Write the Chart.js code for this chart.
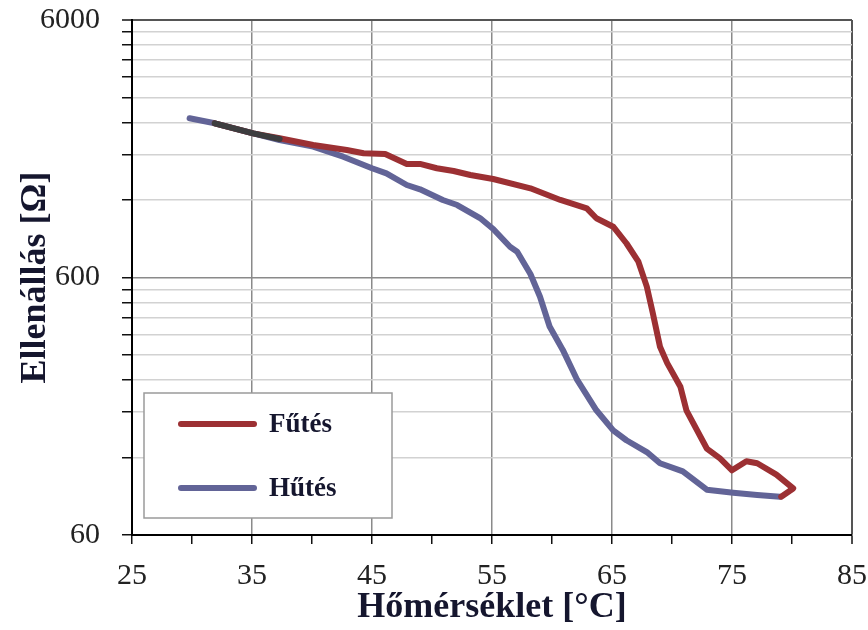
<!DOCTYPE html>
<html>
<head>
<meta charset="utf-8">
<script src="https://cdn.jsdelivr.net/npm/chart.js@4/dist/chart.umd.min.js"></script>
<style>
  html, body { margin: 0; padding: 0; background: #fff; }
  #chart { display: block; }
</style>
</head>
<body>
<canvas id="chart" width="868" height="630"></canvas>
<script>
// Fűtés (heating) branch
const heatTemp = [31.9, 35.1, 37.3, 40.1, 42.9, 44.3, 46.1, 47.9, 49, 50.4, 51.8, 53.2, 55.1, 58.2, 60.7, 62.9, 63.7, 65.1, 66.2, 67.2, 67.9, 68.4, 69, 69.6, 70.7, 71.2, 72.9, 74, 75, 76.2, 77.1, 78.7, 80.1, 79.1];
const heatRes = [2382, 2178, 2083, 1962, 1876, 1822, 1810, 1656, 1656, 1594, 1555, 1500, 1448, 1332, 1200, 1114, 1019, 945, 815, 691, 553, 436, 323, 279, 226, 183, 130, 119, 107, 116, 114, 103, 91, 84.5];

// Hűtés (cooling) branch
const coolTemp = [79, 77.1, 75.1, 72.9, 70.9, 69, 67.9, 66.2, 65.1, 63.7, 62.1, 60.9, 59.8, 59, 58.2, 57.1, 56.5, 55.1, 54, 52.1, 50.9, 49, 47.9, 46.2, 45, 42.6, 40.1, 37.3, 35.1, 31.9, 29.8];
const coolRes = [84.5, 85.8, 87.6, 90, 106, 114, 126, 140, 153, 183, 240, 314, 387, 505, 619, 756, 790, 926, 1021, 1147, 1200, 1320, 1372, 1523, 1594, 1767, 1933, 2052, 2178, 2382, 2491];

// dark stretch where both branches lie on top of each other
const overlapTemp = [31.9, 35.1, 37.3];
const overlapRes = [2382, 2178, 2070];

const yTicks = [60, 120, 180, 240, 300, 360, 420, 480, 540, 600, 1200, 1800, 2400, 3000, 3600, 4200, 4800, 5400, 6000];
const yLabels = [60, 600, 6000];
const xLabels = [25, 35, 45, 55, 65, 75, 85];
const xGrid = [35, 45, 55, 65, 75];

const toPoints = (xs, ys) => xs.map((x, i) => ({ x: x, y: ys[i] }));

const serif = 'Liberation Serif, Times New Roman, serif';
const titleColor = '#15162e';

// legend box drawn inside the plot, bottom-left
const boxLegend = {
    id: 'boxLegend',
    afterDraw(chart) {
        const c = chart.ctx;
        const area = chart.chartArea;
        const left = area.left + 12, top = area.bottom - 142, w = 248, h = 125;
        c.save();
        c.fillStyle = '#fff';
        c.fillRect(left, top, w, h);
        c.strokeStyle = '#9a9a9a';
        c.lineWidth = 1.5;
        c.strokeRect(left, top, w, h);
        const items = chart.data.datasets.filter(d => d.inLegend);
        items.forEach((d, i) => {
            const y = top + 31 + i * 64;
            c.beginPath();
            c.strokeStyle = d.borderColor;
            c.lineWidth = 6;
            c.lineCap = 'round';
            c.moveTo(left + 37, y);
            c.lineTo(left + 110, y);
            c.stroke();
            c.fillStyle = titleColor;
            c.font = 'bold 27px ' + serif;
            c.textBaseline = 'middle';
            c.textAlign = 'left';
            c.fillText(d.label, left + 125, y + 1);
        });
        c.restore();
    }
};

new Chart(document.getElementById('chart'), {
    type: 'scatter',
    data: {
        datasets: [
            {
                label: 'overlap', data: toPoints(overlapTemp, overlapRes),
                borderColor: '#3d3d3f', order: 0, inLegend: false
            },
            {
                label: 'Fűtés', data: toPoints(heatTemp, heatRes),
                borderColor: '#9c3033', order: 1, inLegend: true
            },
            {
                label: 'Hűtés', data: toPoints(coolTemp, coolRes),
                borderColor: '#626497', order: 2, inLegend: true
            }
        ].map(d => Object.assign(d, {
            showLine: true, pointRadius: 0, borderWidth: 6, tension: 0,
            borderJoinStyle: 'round', borderCapStyle: 'round', fill: false
        }))
    },
    options: {
        responsive: false,
        devicePixelRatio: 1,
        animation: false,
        layout: { padding: { left: 0, right: 16, top: 20, bottom: 0 } },
        plugins: { legend: { display: false }, tooltip: { enabled: false } },
        scales: {
            x: {
                type: 'linear', min: 25, max: 85,
                afterFit: s => { s.height = 95; s.paddingLeft = 0; s.paddingRight = 0; },
                border: { color: '#000', width: 2 },
                grid: {
                    color: c => c.tick.value === 85 ? '#555' : (xGrid.includes(c.tick.value) ? '#8a8a8a' : 'rgba(0,0,0,0)'),
                    lineWidth: c => c.tick.value === 85 ? 2 : 1.5,
                    tickColor: '#111', tickLength: 9, tickWidth: 1.5
                },
                ticks: {
                    stepSize: 5, autoSkip: false, maxRotation: 0, padding: 14,
                    color: '#222', font: { family: serif, size: 30 },
                    callback: v => xLabels.includes(v) ? String(v) : ''
                },
                title: {
                    display: true, text: 'Hőmérséklet [°C]', color: titleColor,
                    font: { family: serif, size: 36, weight: 'bold', lineHeight: 1.2 },
                    padding: { top: 0, bottom: 1 }
                }
            },
            y: {
                type: 'logarithmic', min: 60, max: 6000,
                afterFit: s => { s.width = 132; s.paddingTop = 0; s.paddingBottom = 0; },
                afterBuildTicks: s => { s.ticks = yTicks.map(v => ({ value: v })); },
                border: { color: '#000', width: 2 },
                grid: {
                    color: c => c.tick.value === 6000 ? '#555' : (c.tick.value === 600 ? '#8a8a8a' : '#d2d2d2'),
                    lineWidth: c => c.tick.value === 6000 ? 2 : 1.5,
                    tickColor: '#111', tickLength: 10, tickWidth: 1.5
                },
                ticks: {
                    autoSkip: false, padding: 22,
                    color: '#222', font: { family: serif, size: 30 },
                    callback: v => yLabels.includes(v) ? String(v) : ''
                },
                title: {
                    display: true, text: 'Ellenállás [Ω]', color: titleColor,
                    font: { family: serif, size: 36, weight: 'bold', lineHeight: 1.2 },
                    padding: { top: 14, bottom: 0 }
                }
            }
        }
    },
    plugins: [boxLegend]
});
</script>
</body>
</html>
